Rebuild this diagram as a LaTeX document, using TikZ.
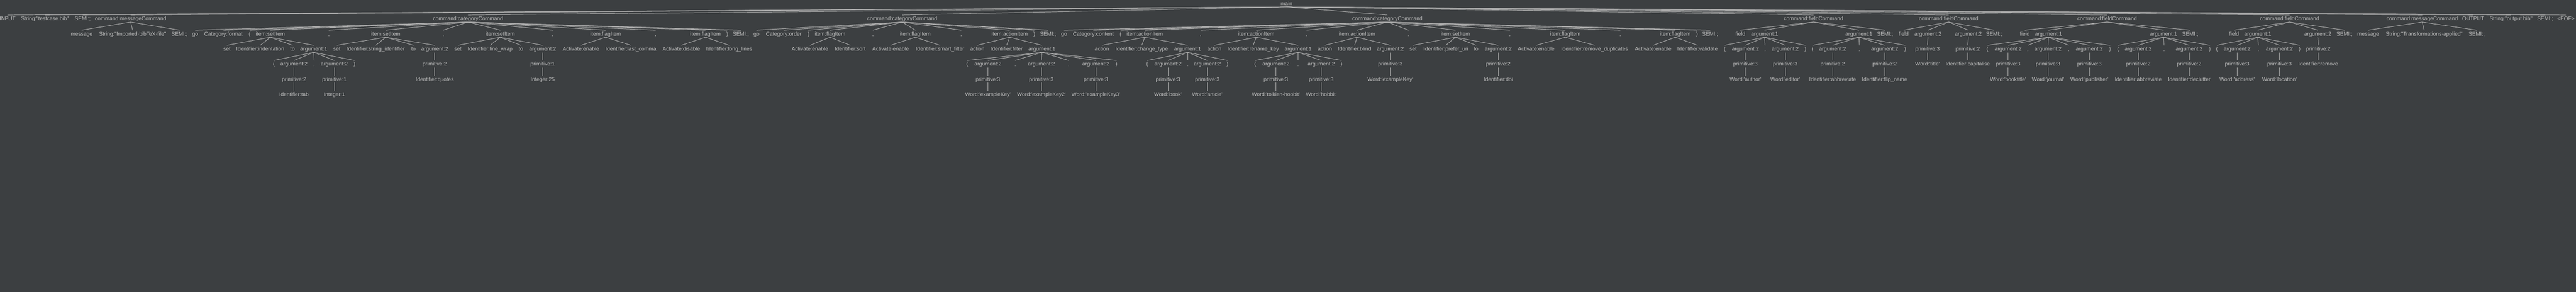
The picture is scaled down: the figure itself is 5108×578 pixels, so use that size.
\documentclass[tikz,border=0pt]{standalone}
\usepackage{fontspec}
\newfontfamily\treefont{Liberation Sans}
\usepackage{xcolor}
\usepackage{tikz}

\definecolor{bgcol}{HTML}{3C3F41}
\definecolor{txtcol}{HTML}{BBBBBB}
\definecolor{edgecol}{HTML}{A9A9A9}

\tikzset{
  tok/.style={font=\treefont\fontsize{5.3}{6}\selectfont, text=txtcol,
    inner xsep=0pt, inner ysep=1.2pt, text height=4.1pt, text depth=0.1pt},
  edge/.style={draw=edgecol, line width=0.5pt}
}

\begin{document}
\begin{tikzpicture}[x=0.5pt,y=-0.5pt]
\fill[bgcol] (0,0) rectangle (5108,578);
\useasboundingbox (0,0) rectangle (5108,578);

% root
\node[tok] (main) at (2551,6.7) {main};

% level 1
\foreach \n/\x/\t in {in/15/INPUT, ins/89/String:"testcase.bib", insm/164/SEMI:;,
  ma/259/command:messageCommand, ca/928/command:categoryCommand,
  cb/1789/command:categoryCommand, cc/2751/command:categoryCommand,
  fa/3596/command:fieldCommand, fb/3864/command:fieldCommand,
  fc/4178/command:fieldCommand, fd/4540/command:fieldCommand,
  mb/4803/command:messageCommand, out/4904/OUTPUT, outs/4979/String:"output.bib",
  outsm/5047/SEMI:;, eof/5088/<EOF>}
  \node[tok] (\n) at (\x,36.7) {\t};

% level 2
\foreach \n/\x/\t in {ma1/162/message, ma2/263/String:"Imported·bibTeX·file", ma3/356/SEMI:;,
  ca1/387/go, ca2/443/Category:format, ca3/495/(, ca4/536/item:setItem, ca5/652/{,},
  ca6/765/item:setItem, ca7/879/{,}, ca8/992/item:setItem, ca9/1096/{,},
  ca10/1201/item:flagItem, ca11/1300/{,}, ca12/1399/item:flagItem, ca13/1442/), ca14/1469/SEMI:;,
  cb1/1500/go, cb2/1554/Category:order, cb3/1603/(, cb4/1646/item:flagItem, cb5/1731/{,},
  cb6/1815/item:flagItem, cb7/1906/{,}, cb8/2002/item:actionItem, cb9/2051/), cb10/2078/SEMI:;,
  cc1/2110/go, cc2/2168/Category:content, cc3/2222/(, cc4/2270/item:actionItem, cc5/2381/{,},
  cc6/2491/item:actionItem, cc7/2591/{,}, cc8/2691/item:actionItem, cc9/2793/{,},
  cc10/2886/item:setItem, cc11/2994/{,}, cc12/3104/item:flagItem, cc13/3213/{,},
  cc14/3322/item:flagItem, cc15/3365/), cc16/3391/SEMI:;,
  fa1/3451/field, fa2/3499/argument:1, fa3/3686/argument:1, fa4/3738/SEMI:;,
  fb1/3775/field, fb2/3823/argument:2, fb3/3903/argument:2, fb4/3954/SEMI:;,
  fc1/4015/field, fc2/4062/argument:1, fc3/4290/argument:1, fc4/4343/SEMI:;,
  fd1/4430/field, fd2/4477/argument:1, fd3/4596/argument:2, fd4/4649/SEMI:;,
  mb1/4696/message, mb2/4807/String:"Transformations·applied", mb3/4911/SEMI:;}
  \node[tok] (\n) at (\x,66.7) {\t};

% level 3
\foreach \n/\x/\t in {ca4a/450/set, ca4b/516/Identifier:indentation, ca4c/580/to, ca4d/622/argument:1,
  ca6a/668/set, ca6b/745/Identifier:string\_identifier, ca6c/820/to, ca6d/862/argument:2,
  ca8a/908/set, ca8b/972/Identifier:line\_wrap, ca8c/1033/to, ca8d/1076/argument:2,
  ca10a/1152/Activate:enable, ca10b/1251/Identifier:last\_comma,
  ca12a/1351/Activate:disable, ca12b/1446/Identifier:long\_lines,
  cb4a/1606/Activate:enable, cb4b/1686/Identifier:sort,
  cb6a/1766/Activate:enable, cb6b/1864/Identifier:smart\_filter,
  cb8a/1938/action, cb8b/1996/Identifier:filter, cb8c/2066/argument:1,
  cc4a/2185/action, cc4b/2264/Identifier:change\_type, cc4c/2355/argument:1,
  cc6a/2408/action, cc6b/2485/Identifier:rename\_key, cc6c/2574/argument:1,
  cc8a/2627/action, cc8b/2686/Identifier:blind, cc8c/2757/argument:2,
  cc10a/2802/set, cc10b/2867/Identifier:prefer\_uri, cc10c/2927/to, cc10d/2971/argument:2,
  cc12a/3046/Activate:enable, cc12b/3162/Identifier:remove\_duplicates,
  cc14a/3278/Activate:enable, cc14b/3366/Identifier:validate,
  fa2a/3420/(, fa2b/3461/argument:2, fa2c/3500/{,}, fa2d/3540/argument:2, fa2e/3580/),
  fa3a/3594/(, fa3b/3634/argument:2, fa3c/3687/{,}, fa3d/3737/argument:2, fa3e/3778/),
  fb2a/3822/primitive:3, fb3a/3902/primitive:2,
  fc2a/3941/(, fc2b/3982/argument:2, fc2c/4021/{,}, fc2d/4061/argument:2, fc2e/4102/{,},
  fc2f/4143/argument:2, fc2g/4184/),
  fc3a/4200/(, fc3b/4240/argument:2, fc3c/4291/{,}, fc3d/4341/argument:2, fc3e/4382/),
  fd2a/4396/(, fd2b/4436/argument:2, fd2c/4478/{,}, fd2d/4520/argument:2, fd2e/4560/),
  fd3a/4597/primitive:2}
  \node[tok] (\n) at (\x,96.7) {\t};

% level 4
\foreach \n/\x/\t in {ca4d1/543/(, ca4d2/583/argument:2, ca4d3/623/{,}, ca4d4/663/argument:2, ca4d5/703/),
  ca6d1/862/primitive:2, ca8d1/1076/primitive:1,
  cb8c1/1918/(, cb8c2/1959/argument:2, cb8c3/2013/{,}, cb8c4/2065/argument:2, cb8c5/2119/{,},
  cb8c6/2173/argument:2, cb8c7/2214/),
  cc4c1/2275/(, cc4c2/2316/argument:2, cc4c3/2355/{,}, cc4c4/2394/argument:2, cc4c5/2434/),
  cc6c1/2489/(, cc6c2/2530/argument:2, cc6c3/2574/{,}, cc6c4/2620/argument:2, cc6c5/2660/),
  cc8c1/2757/primitive:3, cc10d1/2971/primitive:2,
  fa2b1/3461/primitive:3, fa2d1/3540/primitive:3, fa3b1/3634/primitive:2, fa3d1/3737/primitive:2,
  fb2a1/3822/Word:'title', fb3a1/3902/Identifier:capitalise,
  fc2b1/3982/primitive:3, fc2d1/4061/primitive:3, fc2f1/4143/primitive:3,
  fc3b1/4240/primitive:2, fc3d1/4341/primitive:2,
  fd2b1/4436/primitive:3, fd2d1/4520/primitive:3, fd3a1/4597/Identifier:remove}
  \node[tok] (\n) at (\x,126.7) {\t};

% level 5
\foreach \n/\x/\t in {ca4d2a/583/primitive:2, ca4d4a/663/primitive:1,
  ca6d1a/862/Identifier:quotes, ca8d1a/1076/Integer:25,
  cb8c2a/1959/primitive:3, cb8c4a/2065/primitive:3, cb8c6a/2173/primitive:3,
  cc4c2a/2316/primitive:3, cc4c4a/2394/primitive:3,
  cc6c2a/2530/primitive:3, cc6c4a/2620/primitive:3,
  cc8c1a/2757/Word:'exampleKey', cc10d1a/2971/Identifier:doi,
  fa2b1a/3461/Word:'author', fa2d1a/3540/Word:'editor',
  fa3b1a/3634/Identifier:abbreviate, fa3d1a/3737/Identifier:flip\_name,
  fc2b1a/3982/Word:'booktitle', fc2d1a/4061/Word:'journal', fc2f1a/4143/Word:'publisher',
  fc3b1a/4240/Identifier:abbreviate, fc3d1a/4341/Identifier:declutter,
  fd2b1a/4436/Word:'address', fd2d1a/4520/Word:'location'}
  \node[tok] (\n) at (\x,156.7) {\t};

% level 6
\foreach \n/\x/\t in {ca4d2b/583/Identifier:tab, ca4d4b/663/Integer:1,
  cb8c2b/1959/Word:'exampleKey', cb8c4b/2065/Word:'exampleKey2', cb8c6b/2173/Word:'exampleKey3',
  cc4c2b/2316/Word:'book', cc4c4b/2394/Word:'article',
  cc6c2b/2530/Word:'tolkien-hobbit', cc6c4b/2620/Word:'hobbit'}
  \node[tok] (\n) at (\x,186.7) {\t};

% edges with several children
\foreach \p/\cs in {main/{in,ins,insm,ma,ca,cb,cc,fa,fb,fc,fd,mb,out,outs,outsm,eof},
  ma/{ma1,ma2,ma3}, mb/{mb1,mb2,mb3},
  ca/{ca1,ca2,ca3,ca4,ca5,ca6,ca7,ca8,ca9,ca10,ca11,ca12,ca13,ca14},
  cb/{cb1,cb2,cb3,cb4,cb5,cb6,cb7,cb8,cb9,cb10},
  cc/{cc1,cc2,cc3,cc4,cc5,cc6,cc7,cc8,cc9,cc10,cc11,cc12,cc13,cc14,cc15,cc16},
  fa/{fa1,fa2,fa3,fa4}, fb/{fb1,fb2,fb3,fb4}, fc/{fc1,fc2,fc3,fc4}, fd/{fd1,fd2,fd3,fd4},
  ca4/{ca4a,ca4b,ca4c,ca4d}, ca6/{ca6a,ca6b,ca6c,ca6d}, ca8/{ca8a,ca8b,ca8c,ca8d},
  ca10/{ca10a,ca10b}, ca12/{ca12a,ca12b}, cb4/{cb4a,cb4b}, cb6/{cb6a,cb6b},
  cb8/{cb8a,cb8b,cb8c}, cc4/{cc4a,cc4b,cc4c}, cc6/{cc6a,cc6b,cc6c}, cc8/{cc8a,cc8b,cc8c},
  cc10/{cc10a,cc10b,cc10c,cc10d}, cc12/{cc12a,cc12b}, cc14/{cc14a,cc14b},
  fa2/{fa2a,fa2b,fa2c,fa2d,fa2e}, fa3/{fa3a,fa3b,fa3c,fa3d,fa3e},
  fc2/{fc2a,fc2b,fc2c,fc2d,fc2e,fc2f,fc2g}, fc3/{fc3a,fc3b,fc3c,fc3d,fc3e},
  fd2/{fd2a,fd2b,fd2c,fd2d,fd2e},
  ca4d/{ca4d1,ca4d2,ca4d3,ca4d4,ca4d5}, cb8c/{cb8c1,cb8c2,cb8c3,cb8c4,cb8c5,cb8c6,cb8c7},
  cc4c/{cc4c1,cc4c2,cc4c3,cc4c4,cc4c5}, cc6c/{cc6c1,cc6c2,cc6c3,cc6c4,cc6c5}}
  {\foreach \c in \cs {\draw[edge] (\p.south) -- (\c.north);}}

% edges with one child
\foreach \p/\c in {fb2/fb2a, fb3/fb3a, fd3/fd3a, ca6d/ca6d1, ca8d/ca8d1, cc8c/cc8c1, cc10d/cc10d1,
  fa2b/fa2b1, fa2d/fa2d1, fa3b/fa3b1, fa3d/fa3d1, fb2a/fb2a1, fb3a/fb3a1,
  fc2b/fc2b1, fc2d/fc2d1, fc2f/fc2f1, fc3b/fc3b1, fc3d/fc3d1, fd2b/fd2b1, fd2d/fd2d1, fd3a/fd3a1,
  ca4d2/ca4d2a, ca4d4/ca4d4a, ca6d1/ca6d1a, ca8d1/ca8d1a, cb8c2/cb8c2a, cb8c4/cb8c4a, cb8c6/cb8c6a,
  cc4c2/cc4c2a, cc4c4/cc4c4a, cc6c2/cc6c2a, cc6c4/cc6c4a, cc8c1/cc8c1a, cc10d1/cc10d1a,
  fa2b1/fa2b1a, fa2d1/fa2d1a, fa3b1/fa3b1a, fa3d1/fa3d1a, fc2b1/fc2b1a, fc2d1/fc2d1a, fc2f1/fc2f1a,
  fc3b1/fc3b1a, fc3d1/fc3d1a, fd2b1/fd2b1a, fd2d1/fd2d1a,
  ca4d2a/ca4d2b, ca4d4a/ca4d4b, cb8c2a/cb8c2b, cb8c4a/cb8c4b, cb8c6a/cb8c6b,
  cc4c2a/cc4c2b, cc4c4a/cc4c4b, cc6c2a/cc6c2b, cc6c4a/cc6c4b}
  \draw[edge] (\p.south) -- (\c.north);
\end{tikzpicture}
\end{document}
